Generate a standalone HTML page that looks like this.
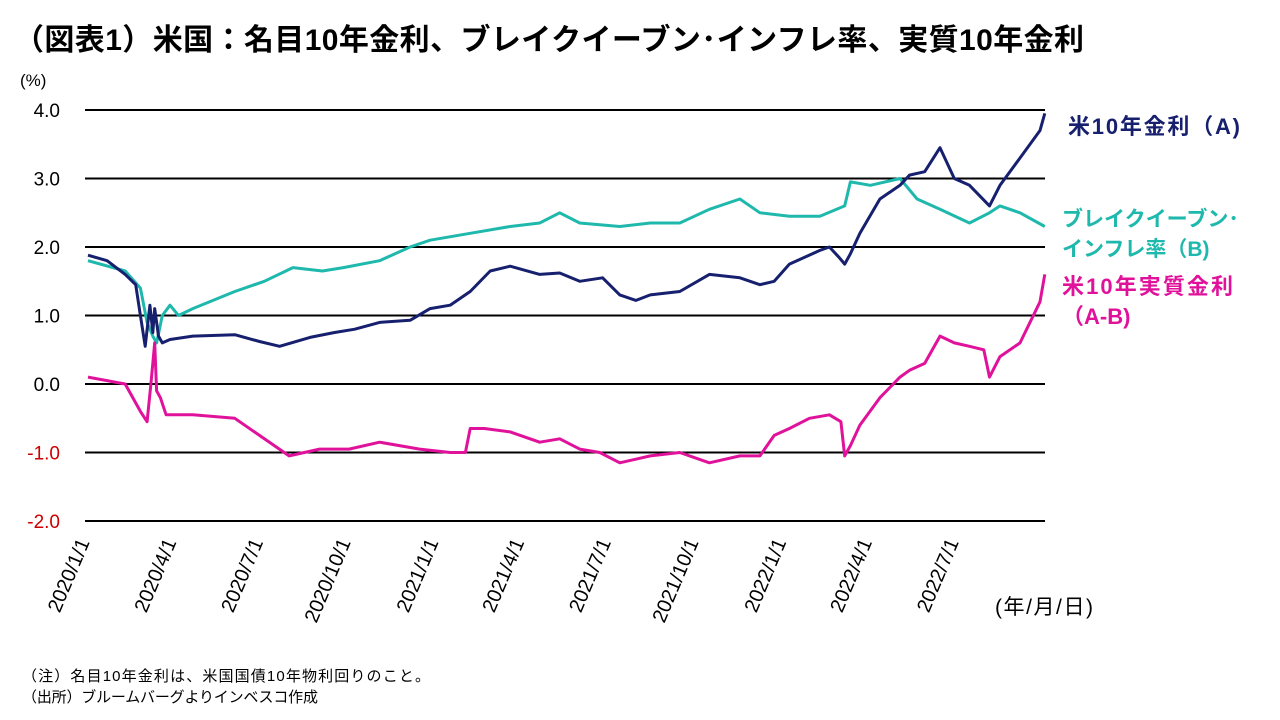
<!DOCTYPE html>
<html><head><meta charset="utf-8"><style>
body{margin:0;width:1280px;height:720px;background:#fff;font-family:"Liberation Sans","Noto Sans CJK JP",sans-serif;overflow:hidden}
</style></head><body>
<svg id="c" width="1280" height="720" style="position:absolute;left:0;top:0">
<text x="14" y="50" font-size="30" font-weight="bold" fill="#000" textLength="1070" font-family="Liberation Sans, Noto Sans CJK JP, sans-serif">（図表1）米国：名目10年金利、ブレイクイーブン･インフレ率、実質10年金利</text>
<text x="20" y="86" font-size="17">(%)</text>
<text x="995" y="614" font-size="21" textLength="98" font-family="Liberation Sans, Noto Sans CJK JP, sans-serif">(年/月/日)</text>
<text x="22" y="681" font-size="15" textLength="408" font-family="Liberation Sans, Noto Sans CJK JP, sans-serif">（注）名目10年金利は、米国国債10年物利回りのこと。</text>
<text x="22" y="702" font-size="15" textLength="296" font-family="Liberation Sans, Noto Sans CJK JP, sans-serif">（出所）ブルームバーグよりインベスコ作成</text>
<text x="1068" y="134" font-size="22" font-weight="bold" fill="#16206e" textLength="172" font-family="Liberation Sans, Noto Sans CJK JP, sans-serif">米10年金利（A)</text>
<text x="1062" y="226" font-size="21" font-weight="bold" fill="#1fb8ad" font-family="Liberation Sans, Noto Sans CJK JP, sans-serif"><tspan x="1062">ブレイクイーブン･</tspan><tspan x="1062" dy="30">インフレ率（B)</tspan></text>
<text x="1062" y="294" font-size="22" font-weight="bold" fill="#e0119a" font-family="Liberation Sans, Noto Sans CJK JP, sans-serif"><tspan x="1062" textLength="171">米10年実質金利</tspan><tspan x="1062" dy="30">（A-B)</tspan></text>
</svg>
<script>
const yTicks=[4,3,2,1,0,-1,-2];
const yTickLabels=["4.0","3.0","2.0","1.0","0.0","-1.0","-2.0"];
const xTickDays=[0,91,182,274,366,456,547,639,731,821,912];
const xTickLabels=["2020/1/1","2020/4/1","2020/7/1","2020/10/1","2021/1/1","2021/4/1","2021/7/1","2021/10/1","2022/1/1","2022/4/1","2022/7/1"];
const aDays=[0,20,39,50,55,60,65,68,70,74,78,86,110,154,180,201,233,258,280,306,338,359,380,401,422,443,474,495,516,540,558,575,590,621,652,684,705,720,736,768,778,788,794,800,810,831,852,862,878,894,909,925,946,957,978,999,1004];
const aVals=[1.88,1.8,1.6,1.45,1.0,0.55,1.15,0.75,1.1,0.7,0.6,0.65,0.7,0.72,0.62,0.55,0.68,0.75,0.8,0.9,0.93,1.1,1.15,1.35,1.65,1.72,1.6,1.62,1.5,1.55,1.3,1.22,1.3,1.35,1.6,1.55,1.45,1.5,1.75,1.95,2.0,1.85,1.75,1.9,2.2,2.7,2.9,3.05,3.1,3.45,3.0,2.9,2.6,2.9,3.3,3.7,3.95];
const bDays=[0,39,55,62,68,72,78,86,95,110,154,185,215,246,268,306,338,359,401,443,474,495,516,558,590,621,652,684,705,736,768,794,800,821,852,870,894,925,946,957,978,1004];
const bVals=[1.8,1.65,1.4,0.9,0.7,0.6,1.0,1.15,1.0,1.1,1.35,1.5,1.7,1.65,1.7,1.8,2.0,2.1,2.2,2.3,2.35,2.5,2.35,2.3,2.35,2.35,2.55,2.7,2.5,2.45,2.45,2.6,2.95,2.9,3.0,2.7,2.55,2.35,2.5,2.6,2.5,2.3];
const rDays=[0,39,55,62,66,70,72,76,82,95,110,154,180,211,243,274,306,348,380,396,401,416,443,474,495,516,537,558,590,621,652,684,705,720,736,757,778,790,794,800,810,831,852,862,878,894,909,925,940,946,957,978,999,1004];
const rVals=[0.1,0.0,-0.4,-0.55,0.0,0.6,-0.1,-0.2,-0.45,-0.45,-0.45,-0.5,-0.75,-1.05,-0.95,-0.95,-0.85,-0.95,-1.0,-1.0,-0.65,-0.65,-0.7,-0.85,-0.8,-0.95,-1.0,-1.15,-1.05,-1.0,-1.15,-1.05,-1.05,-0.75,-0.65,-0.5,-0.45,-0.55,-1.05,-0.9,-0.6,-0.2,0.1,0.2,0.3,0.7,0.6,0.55,0.5,0.1,0.4,0.6,1.2,1.6];
const ns="http://www.w3.org/2000/svg";
const svg=document.getElementById('c');
const x0=88,pxPerDay=0.953,xEnd=1045;
const X=d=>x0+d*pxPerDay;
const Y=v=>384-v*68.5;
function mk(t,a){const e=document.createElementNS(ns,t);for(const k in a)e.setAttribute(k,a[k]);svg.appendChild(e);return e;}
yTicks.forEach((v,i)=>{
 const l=mk('line',{x1:85,x2:xEnd,y1:Y(v),y2:Y(v),stroke:'#000','stroke-width':2});
 
 
 const t=mk('text',{x:60,y:Y(v)+7,'font-size':19,'text-anchor':'end',fill:v<0?'#c00':'#000'});
 t.textContent=yTickLabels[i];
 
 
});
xTickDays.forEach((d,i)=>{
 const x=X(d)+2;
 const t=mk('text',{x:x,y:542,'font-size':20,'text-anchor':'end',transform:`rotate(-67 ${x} 542)`});
 t.textContent=xTickLabels[i];
 
 
});
function line(days,vals,color,name){
 const p=days.map((d,i)=>X(d).toFixed(1)+','+Y(vals[i]).toFixed(1)).join(' ');
 const e=mk('polyline',{points:p,fill:'none',stroke:color,'stroke-width':3,'stroke-linejoin':'round'});
 
 
}
line(bDays,bVals,'#1fb8ad','breakeven-line');
line(rDays,rVals,'#e0119a','real-rate-line');
line(aDays,aVals,'#16206e','nominal-rate-line');
</script>
</body></html>
